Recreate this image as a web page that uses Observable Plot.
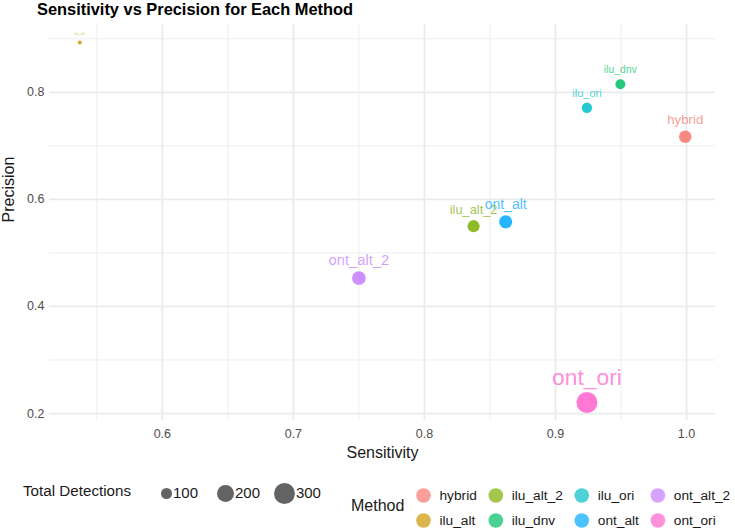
<!DOCTYPE html>
<html>
<head>
<meta charset="utf-8">
<script src="https://cdn.jsdelivr.net/npm/d3@7"></script>
<script src="https://cdn.jsdelivr.net/npm/@observablehq/plot@0.6"></script>
<style>
  body { margin: 0; background: #fff; }
  #page { position: relative; width: 735px; height: 529px; overflow: hidden;
          font-family: "Liberation Sans", Arial, Helvetica, sans-serif; }
  #title { position: absolute; left: 37px; top: 0; font-size: 16.4px; line-height: 18px;
           font-weight: bold; color: #000; white-space: nowrap; }
  #chart { position: absolute; left: 0; top: 20px; }
  #sizeTitle { position: absolute; left: 23px; top: 482px; font-size: 15.2px; line-height: 18px; color: #1a1a1a; white-space: nowrap; }
  #sizeLegend { position: absolute; left: 140px; top: 475px; }
  #colorTitle { position: absolute; left: 351px; top: 497px; font-size: 16px; line-height: 18px; color: #1a1a1a; white-space: nowrap; }
  #colorLegend { position: absolute; left: 410px; top: 477px; }
  svg text { font-family: "Liberation Sans", Arial, Helvetica, sans-serif; }
</style>
</head>
<body>
<div id="page">
  <div id="title">Sensitivity vs Precision for Each Method</div>
  <div id="chart"></div>
  <div id="sizeTitle">Total Detections</div>
  <div id="sizeLegend"></div>
  <div id="colorTitle">Method</div>
  <div id="colorLegend"></div>
</div>
<script>
// Methods compared, with their sensitivity, precision and total number of detections
const methods     = ["hybrid", "ilu_alt", "ilu_alt_2", "ilu_dnv", "ilu_ori", "ont_alt", "ont_alt_2", "ont_ori"];
const sensitivity = [0.999,    0.537,     0.8375,      0.9495,    0.924,     0.862,     0.750,       0.924];
const precision   = [0.717,    0.893,     0.550,       0.815,     0.771,     0.558,     0.453,       0.2206];
const detections  = [119,      58,        113,         88,        93,        129,       140,         303];

// Axis ticks and legend breaks
const xMajor = [0.6, 0.7, 0.8, 0.9, 1.0];
const xMinor = [0.55, 0.65, 0.75, 0.85, 0.95];
const yMajor = [0.2, 0.4, 0.6, 0.8];
const yMinor = [0.3, 0.5, 0.7, 0.9];
const sizeBreaks = [100, 200, 300];

// ggplot2-style hue palette
const palette = ["#F8766D", "#CD9600", "#7CAE00", "#00BE67", "#00BFC4", "#00A9FF", "#C77CFF", "#FF61CC"];

const data = methods.map((m, i) => ({
  method: m, sens: sensitivity[i], prec: precision[i], total: detections[i]
}));

// 5% padding on each side of the data extent
function padded(values) {
  const [a, b] = d3.extent(values);
  const p = (b - a) * 0.05;
  return [a - p, b + p];
}

// Size is area-proportional above the smallest total
const minTotal = d3.min(detections);
const spanTotal = d3.max(detections) - minTotal;
const rScale = {type: "sqrt", domain: [0, spanTotal], range: [2, 10.5]};
const fontScale = d3.scaleSqrt().domain([0, spanTotal]).range([3.8, 22.8]);

const colorScale = {domain: methods, range: palette};
const grid = "#ebebeb";
const axisText = "#4d4d4d";
const fontFamily = "Liberation Sans, Arial, sans-serif";

const chart = Plot.plot({
  width: 735,
  height: 450,
  marginLeft: 49,
  marginRight: 20,
  marginTop: 4,
  marginBottom: 50,
  style: {fontFamily, background: "transparent"},
  x: {domain: padded(sensitivity)},
  y: {domain: padded(precision)},
  r: rScale,
  color: colorScale,
  marks: [
    Plot.gridX(xMinor, {stroke: grid, strokeOpacity: 1, strokeWidth: 0.9}),
    Plot.gridY(yMinor, {stroke: grid, strokeOpacity: 1, strokeWidth: 0.9}),
    Plot.gridX(xMajor, {stroke: grid, strokeOpacity: 1, strokeWidth: 1.8}),
    Plot.gridY(yMajor, {stroke: grid, strokeOpacity: 1, strokeWidth: 1.8}),
    Plot.axisX(xMajor, {tickSize: 0, tickPadding: 9, fontSize: 12.5, fill: axisText,
                        tickFormat: d3.format(".1f"), label: null}),
    Plot.axisY(yMajor, {tickSize: 0, tickPadding: 5, fontSize: 12.5, fill: axisText,
                        tickFormat: d3.format(".1f"), label: null}),
    // axis titles
    Plot.text(["Sensitivity"], {frameAnchor: "bottom", dy: 37, fontSize: 16, fill: "#1a1a1a"}),
    Plot.text(["Precision"], {frameAnchor: "left", rotate: -90, dx: -41, fontSize: 16, fill: "#1a1a1a"}),
    Plot.dot(data, {x: "sens", y: "prec", r: d => d.total - minTotal, fill: "method", fillOpacity: 0.85}),
    Plot.text(data, {x: "sens", y: "prec", text: "method", fill: "method", fillOpacity: 0.72,
                     fontSize: d => fontScale(d.total - minTotal), lineAnchor: "bottom", dy: -5,
                     className: "point-label"})
  ]
});
// Lift each label by a share of its own font size
d3.select(chart).selectAll(".point-label text").attr("y", "-0.56em");
document.getElementById("chart").append(chart);

// Size legend: same radius scale as the chart
const sizeLegend = Plot.plot({
  width: 200,
  height: 36,
  margin: 0,
  style: {fontFamily, background: "transparent"},
  x: {type: "point", domain: sizeBreaks, range: [25, 144], padding: 0, axis: null},
  y: {domain: [0, 1], range: [36, 0], axis: null},
  r: rScale,
  marks: [
    Plot.dot(sizeBreaks, {x: d => d, y: 0.5, r: d => d - minTotal, fill: "#636363"}),
    Plot.text(sizeBreaks, {x: d => d, y: 0.5, text: d => String(d), textAnchor: "start",
                           dx: 7, fontSize: 15, fill: "#1a1a1a"})
  ]
});
// each break label starts just past its own dot
d3.select(sizeLegend).selectAll("g[aria-label='text'] text")
  .attr("x", (_, i) => Math.sqrt((sizeBreaks[i] - minTotal) / spanTotal) * 8.5 - 4);
document.getElementById("sizeLegend").append(sizeLegend);

// Colour legend: two rows, filled column by column; column widths follow the longest label
const legendFont = 13.7;
const measure = document.createElement("canvas").getContext("2d");
measure.font = `${legendFont}px Liberation Sans, Arial, sans-serif`;
const keys = methods.map((m, i) => ({method: m, col: Math.floor(i / 2), row: i % 2}));
const colWidths = d3.range(4).map(c =>
  d3.max(keys.filter(k => k.col === c), k => measure.measureText(k.method).width));
const colStart = [13];
for (let c = 1; c < 4; ++c) colStart[c] = colStart[c - 1] + colWidths[c - 1] + 35;
keys.forEach(k => k.cx = colStart[k.col]);

const colorLegend = Plot.plot({
  width: 325,
  height: 52,
  margin: 0,
  style: {fontFamily, background: "transparent"},
  x: {type: "identity", axis: null},
  y: {type: "point", domain: [0, 1], range: [18, 43], padding: 0, axis: null},
  color: colorScale,
  marks: [
    Plot.dot(keys, {x: "cx", y: "row", r: 7.3, fill: "method", fillOpacity: 0.7}),
    Plot.text(keys, {x: "cx", y: "row", text: "method", textAnchor: "start", dx: 16,
                     fontSize: legendFont, fill: "#1a1a1a"})
  ]
});
document.getElementById("colorLegend").append(colorLegend);
</script>
</body>
</html>
